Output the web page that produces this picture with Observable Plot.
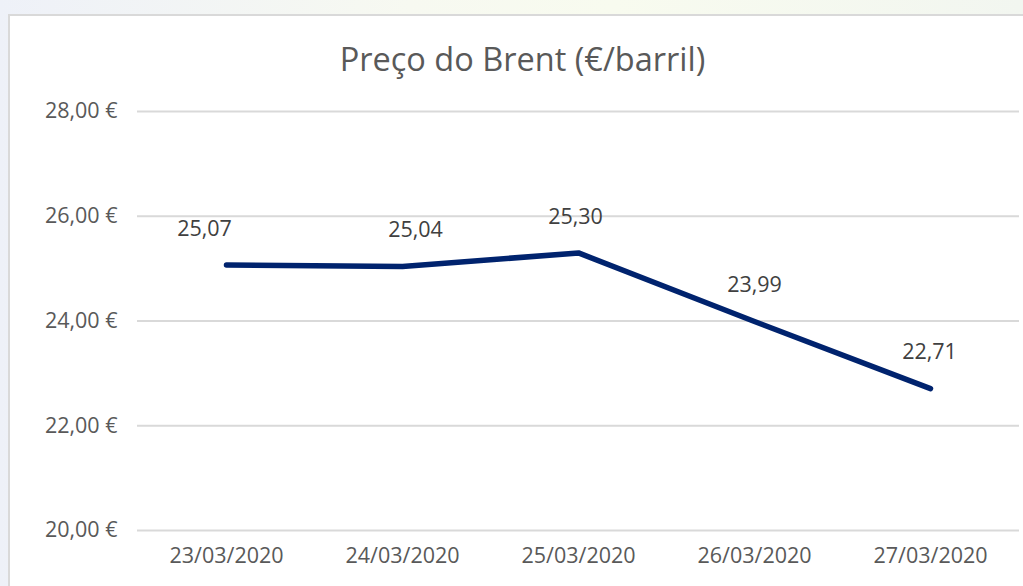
<!DOCTYPE html>
<html>
<head>
<meta charset="utf-8">
<script src="https://cdn.jsdelivr.net/npm/d3@7"></script>
<script src="https://cdn.jsdelivr.net/npm/@observablehq/plot@0.6"></script>
<style>
  html, body { margin: 0; padding: 0; }
  body {
    width: 1023px; height: 586px; overflow: hidden; position: relative;
    background: linear-gradient(90deg, #eef1f8 0%, #f7f9f1 40%, #f8fbef 60%, #f2f6f0 100%);
  }
  #box {
    position: absolute; left: 8px; top: 14px; width: 1030px; height: 590px;
    background: #fff; border: 2px solid #d9d9d9; box-sizing: border-box;
  }
  #title {
    position: absolute; left: 0; width: 1045px; top: 43px; text-align: center;
    font-family: "Open Sans", sans-serif; font-size: 32.5px; color: #595959; line-height: 1;
  }
  #chart { position: absolute; left: 0; top: 0; }
</style>
</head>
<body>
<div id="box"></div>
<div id="title">Preço do Brent (€/barril)</div>
<div id="chart"></div>
<script>
const dates = ["23/03/2020", "24/03/2020", "25/03/2020", "26/03/2020", "27/03/2020"];
const prices = [25.07, 25.04, 25.30, 23.99, 22.71];
const yTicks = [20, 22, 24, 26, 28];

const data = dates.map((d, i) => ({date: d, price: prices[i]}));
const labelDx = [-22, 13, -3, 0, -1];
const fmt = v => v.toFixed(2).replace(".", ",");

const chart = Plot.plot({
  width: 1023,
  height: 586,
  marginLeft: 137,
  marginRight: 4,
  marginTop: 111,
  marginBottom: 56,
  style: {fontFamily: "Open Sans, sans-serif", fontSize: "21.5px", color: "#595959", background: "transparent", overflow: "visible"},
  x: {type: "point", domain: dates, padding: 0.5, label: null},
  y: {domain: [20, 28], ticks: yTicks, label: null},
  marks: [
    Plot.ruleY(yTicks, {stroke: "#d9d9d9", strokeWidth: 2}),
    Plot.axisY({ticks: yTicks, tickSize: 0, tickPadding: 20, tickFormat: d => fmt(d) + " €", fill: "#595959"}),
    Plot.axisX({tickSize: 0, tickPadding: 17, fill: "#595959"}),
    Plot.line(data, {x: "date", y: "price", stroke: "#00236e", strokeWidth: 5.5, strokeLinecap: "round", strokeLinejoin: "round"}),
    ...data.map((d, i) => Plot.text([d], {x: "date", y: "price", text: r => fmt(r.price), dy: -36, dx: labelDx[i], fill: "#404040"}))
  ]
});
document.getElementById("chart").appendChild(chart);
</script>
</body>
</html>
